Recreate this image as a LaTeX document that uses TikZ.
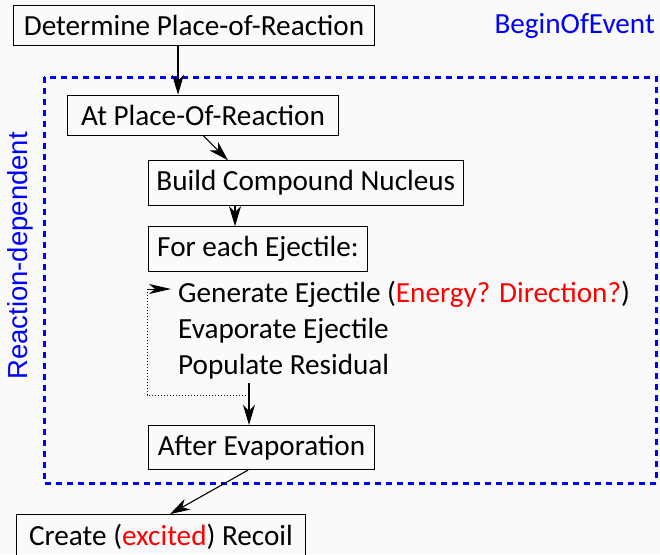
\documentclass[tikz,border=0pt]{standalone}
\usepackage{fontspec}
\setmainfont{Carlito}
\newfontfamily\arialfont{Liberation Sans}
\usetikzlibrary{arrows.meta}
\definecolor{bgcol}{RGB}{250,250,250}

\begin{document}
\begin{tikzpicture}[x=1pt,y=-1pt,
        box/.style={draw,line width=0.9pt,anchor=west,minimum height=37pt,inner xsep=8pt},
        plain/.style={anchor=base west,inner sep=0pt},
        arr/.style={-{Stealth[length=20pt,width=12pt,inset=6pt]},line width=1.1pt},
        evtbox/.style={draw=blue,line width=3pt,dash pattern=on 6pt off 5pt}]
    \fontsize{29.2}{34}\selectfont
    \useasboundingbox (0,0) rectangle (660,554);
    \fill[bgcol] (0,0) rectangle (660,554);

    \draw[evtbox] (44,77) rectangle (656,483);
    \node[plain,anchor=base east,text=blue] (boe) at (655,33) {BeginOfEvent};
    \node[plain,rotate=90,text=blue,font=\arialfont\fontsize{27.5}{30}\selectfont] (rdep) at (27,380) {Reaction-dependent};

    \node[box,minimum width=361pt] (det) at (13,25) {Determine Place-of-Reaction};
    \node[box,minimum width=271pt] (at) at (67,115) {At Place-Of-Reaction};
    \node[box,minimum width=314pt] (build) at (148,183) {Build Compound Nucleus};
    \node[box,minimum width=219pt] (each) at (148,249) {For each Ejectile:};
    \node[plain] (gen) at (178,302) {Generate Ejectile (\textcolor{red}{Energy? Direction?})};
    \node[plain] (evap) at (178,338) {Evaporate Ejectile};
    \node[plain] (pop) at (178,374) {Populate Residual};
    \node[box,minimum width=226pt] (after) at (148,447.5) {After Evaporation};
    \node[box,minimum width=289pt] (recoil) at (16,537) {Create (\textcolor{red}{excited}) Recoil};

    \coordinate (popend) at (249,383);
    \coordinate (loopbeg) at (249,395);
    \coordinate (loopcorner) at (147,289);
    \coordinate (loopend) at (171,289);

    \draw[arr] ([xshift=165pt]det.south west) -- ([xshift=111pt]at.north west);
    \draw[arr] ([xshift=136pt]at.south west) -- ([xshift=80pt]build.north west);
    \draw[arr] ([xshift=87pt]build.south west) -- ([xshift=87pt]each.north west);
    \draw[arr] (popend) -- ([xshift=101pt]after.north west);
    \draw[dotted,line width=1pt] (loopbeg) -| (loopcorner);
    \draw[-{Stealth[length=22pt,width=10pt,inset=6pt]},line width=1pt] (loopcorner) -- (loopend);
    \draw[arr] ([xshift=100pt]after.south west) -- ([xshift=154pt]recoil.north west);
\end{tikzpicture}
\end{document}
